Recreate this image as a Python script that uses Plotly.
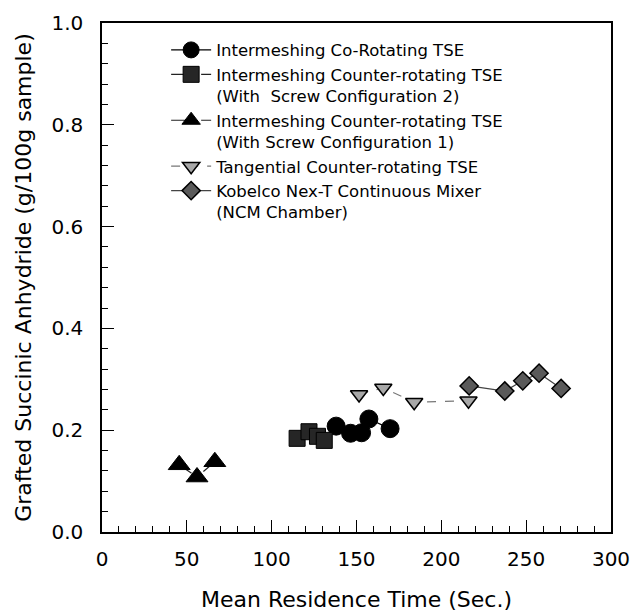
import plotly.graph_objects as go

# ---- data ----
co_x = [138, 146.5, 153, 157.3, 169.8]
co_y = [0.208, 0.194, 0.195, 0.222, 0.203]

cnt2_x = [115, 122, 127, 131]
cnt2_y = [0.184, 0.197, 0.188, 0.180]

cnt1_x = [45.5, 56, 66.5]
cnt1_y = [0.132, 0.108, 0.138]

tan_x = [151.5, 165.8, 184, 216]
tan_y = [0.270, 0.283, 0.255, 0.258]

kob_x = [216.4, 237.4, 248, 257.6, 270.6]
kob_y = [0.287, 0.277, 0.297, 0.312, 0.282]

names = [
    "Intermeshing Co-Rotating TSE",
    "Intermeshing Counter-rotating TSE<br>(With  Screw Configuration 2)",
    "Intermeshing Counter-rotating TSE<br>(With Screw Configuration 1)",
    "Tangential Counter-rotating TSE",
    "Kobelco Nex-T Continuous Mixer<br>(NCM Chamber)",
]

x_ticks = [0, 50, 100, 150, 200, 250, 300]
y_ticks = [0.0, 0.2, 0.4, 0.6, 0.8, 1.0]
y_tick_text = ["0.0", "0.2", "0.4", "0.6", "0.8", "1.0"]

FONT = "DejaVu Sans, Liberation Sans, Arial, sans-serif"

fig = go.Figure()

fig.add_trace(go.Scatter(
    x=co_x, y=co_y, name=names[0], mode="lines+markers",
    line=dict(color="black", width=1.3),
    marker=dict(symbol="circle", size=18, color="black",
                line=dict(color="black", width=1)),
))
fig.add_trace(go.Scatter(
    x=cnt2_x, y=cnt2_y, name=names[1], mode="lines+markers",
    line=dict(color="#222", width=1.2, dash="longdash"),
    marker=dict(symbol="square", size=16, color="#262626",
                line=dict(color="black", width=1)),
))
fig.add_trace(go.Scatter(
    x=cnt1_x, y=cnt1_y, name=names[2], mode="lines+markers",
    line=dict(color="#222", width=1.2, dash="longdash"),
    marker=dict(symbol="triangle-up", size=19, color="black",
                line=dict(color="black", width=1)),
))
fig.add_trace(go.Scatter(
    x=tan_x, y=tan_y, name=names[3], mode="lines+markers",
    line=dict(color="#777", width=1.1, dash="dash"),
    marker=dict(symbol="triangle-down", size=15, color="#a8a8a8",
                line=dict(color="black", width=1.5)),
))
fig.add_trace(go.Scatter(
    x=kob_x, y=kob_y, name=names[4], mode="lines+markers",
    line=dict(color="#444", width=1.2),
    marker=dict(symbol="diamond", size=14, color="#5a5a5a",
                line=dict(color="black", width=1.5)),
))

axis_common = dict(
    showline=True, linecolor="black", linewidth=1.5, mirror=True,
    ticks="inside", ticklen=12, tickwidth=1.2, tickcolor="black",
    showgrid=False, zeroline=False, automargin=False,
    tickfont=dict(family=FONT, size=20, color="black"),
)

fig.update_xaxes(
    range=[0, 300], tickvals=x_ticks,
    minor=dict(dtick=10, ticks="inside", ticklen=6, tickcolor="black", tickwidth=1),
    title=dict(text="Mean Residence Time (Sec.)",
               font=dict(family=FONT, size=22, color="black"), standoff=24),
    ticklabelstandoff=8,
    **axis_common,
)
fig.update_yaxes(
    range=[0, 1], tickvals=y_ticks, ticktext=y_tick_text,
    minor=dict(dtick=0.04, ticks="inside", ticklen=6, tickcolor="black", tickwidth=1),
    title=dict(text="Grafted Succinic Anhydride (g/100g sample)",
               font=dict(family=FONT, size=22, color="black"), standoff=14),
    ticklabelstandoff=13,
    **axis_common,
)

fig.update_layout(
    width=634, height=612,
    margin=dict(l=102, r=23, t=23, b=80),
    paper_bgcolor="white", plot_bgcolor="white",
    font=dict(family=FONT, color="black"),
    showlegend=True,
    legend=dict(
        x=0.126, y=0.981, xanchor="left", yanchor="top",
        bgcolor="rgba(0,0,0,0)", borderwidth=0,
        font=dict(family=FONT, size=16.5, color="black"),
        itemwidth=40, valign="top", tracegroupgap=0,
    ),
)

fig.write_html("out.html")
